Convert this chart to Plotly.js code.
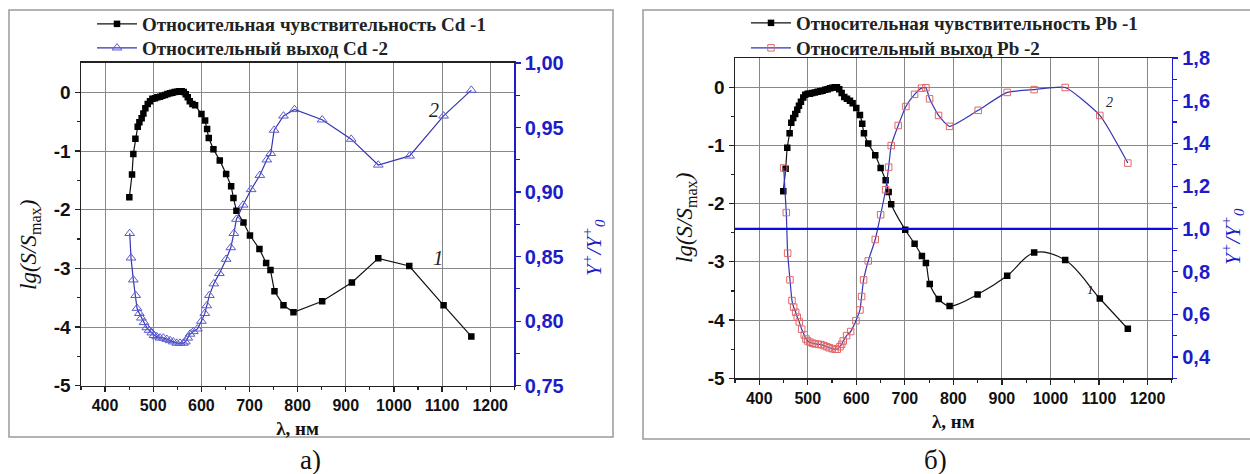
<!DOCTYPE html>
<html>
<head>
<meta charset="utf-8">
<script src="https://cdn.plot.ly/plotly-3.0.1.min.js"></script>
<style>body{margin:0;padding:0;background:#fff}#chart{width:1250px;height:474px}</style>
</head>
<body>
<div id="chart"></div>
<script>
// ---------- Data: panel а) Cd ----------
const cdSensX = [450.4,456,458.7,463,467.8,471.3,476,479.6,483.7,488.6,493.4,498.3,503.8,508.7,514.2,519,524.6,529.5,535,539.9,544.7,549.6,554.4,559.3,563.4,567.6,571.8,576,581.5,587,600.2,607.8,612,615.4,625.1,638.3,651.5,661.9,666.7,672.9,687.5,701,720.7,734.6,743.6,751.9,770.6,791.4,851,912.7,967.5,1031.9,1103.2,1160.8];
const cdSensY = [-1.79,-1.40,-1.05,-0.79,-0.585,-0.51,-0.44,-0.36,-0.27,-0.20,-0.15,-0.11,-0.10,-0.085,-0.074,-0.057,-0.045,-0.03,-0.017,-0.006,0.005,0.01,0.017,0.02,0.006,-0.034,-0.085,-0.15,-0.20,-0.22,-0.37,-0.48,-0.625,-0.78,-0.97,-1.16,-1.39,-1.60,-1.80,-2.02,-2.22,-2.44,-2.67,-2.91,-3.03,-3.39,-3.63,-3.75,-3.56,-3.24,-2.83,-2.96,-3.63,-4.16];
const cdYieldX = [451.2,453.9,458.7,463.7,466.4,471.2,475.4,481,486.6,491.4,497,501.8,507.4,514.2,521.1,528.2,535,541.9,549,555.8,562.7,566.8,571.8,576.6,583.5,591.8,600.1,607.2,611.3,616.7,625.9,637.5,651.5,661.2,667.5,672.9,686.8,703.4,721.5,736,744.3,751.2,770.6,793.5,851,911.3,967.5,1032.6,1103.2,1160.8];
const cdYieldY = [0.868,0.849,0.832,0.820,0.810,0.806,0.8025,0.799,0.795,0.793,0.791,0.789,0.788,0.787,0.787,0.786,0.785,0.784,0.783,0.783,0.783,0.784,0.787,0.790,0.792,0.794,0.800,0.806,0.812,0.820,0.829,0.837,0.848,0.857,0.868,0.879,0.890,0.902,0.913,0.925,0.930,0.948,0.959,0.964,0.956,0.941,0.921,0.928,0.959,0.979];

// ---------- Data: panel б) Pb ----------
const pbSensX = [449.5,454.4,457.7,462.6,466,470,474.2,478.3,481.8,485.9,490.7,494.8,499.7,504.5,509.2,514.8,520.3,525.7,530.6,536,540.9,545.7,550.4,555.4,560.1,564.8,569.8,575.2,580.7,586.9,592.4,599.9,607.5,612.2,615.7,624.6,639,650.1,660.4,666.6,671.9,700.8,720.1,735.2,743.4,751.3,769.8,792.2,849.9,910.9,966.5,1030.4,1101.8,1159.5];
const pbSensY = [-1.79,-1.40,-1.04,-0.79,-0.61,-0.53,-0.46,-0.39,-0.32,-0.25,-0.18,-0.13,-0.115,-0.115,-0.10,-0.09,-0.08,-0.07,-0.06,-0.045,-0.035,-0.02,-0.01,0,0,-0.035,-0.10,-0.17,-0.20,-0.235,-0.275,-0.36,-0.48,-0.63,-0.79,-0.97,-1.17,-1.39,-1.60,-1.80,-2.01,-2.45,-2.69,-2.90,-3.02,-3.38,-3.64,-3.76,-3.56,-3.24,-2.84,-2.97,-3.63,-4.15];
const pbYieldX = [450.3,455.7,458.5,463.3,467.4,470.9,475,478.3,482.4,487.4,492.7,496.2,499.7,504.5,510,515.4,521.6,527.2,533.3,538.9,544.2,550.4,556,560.7,566.3,569.8,573.1,580,588.3,599.2,607.5,610.9,615,624.6,639,650.1,660.4,666.6,671.9,686.3,702.2,720.1,734.5,743.4,751,769.5,792.2,851.1,910.9,966.5,1030.4,1101.8,1159.5];
const pbYieldY = [1.285,1.076,0.886,0.761,0.664,0.633,0.609,0.586,0.564,0.530,0.503,0.484,0.475,0.469,0.464,0.461,0.459,0.458,0.453,0.448,0.443,0.439,0.436,0.436,0.448,0.459,0.475,0.500,0.519,0.570,0.620,0.683,0.761,0.850,0.950,1.066,1.183,1.289,1.390,1.484,1.573,1.630,1.659,1.661,1.609,1.531,1.480,1.555,1.639,1.652,1.662,1.531,1.308];

// ---------- Tick labels ----------
const xTickVals = [400,500,600,700,800,900,1000,1100,1200];
const xTickText = ['400','500','600','700','800','900','1000','1100','1200'];
const lgTickVals = [-5,-4,-3,-2,-1,0];
const lgTickText = ['-5','-4','-3','-2','-1','0'];
const lgMinorVals = [-4.5,-3.5,-2.5,-1.5,-0.5];
const xMinorVals = [350,450,550,650,750,850,950,1050,1150,1250];
const cdYieldTickVals = [0.75,0.80,0.85,0.90,0.95,1.00];
const cdYieldTickText = ['0,75','0,80','0,85','0,90','0,95','1,00'];
const cdYieldMinorVals = [0.775,0.825,0.875,0.925,0.975];
const pbYieldTickVals = [0.4,0.6,0.8,1.0,1.2,1.4,1.6,1.8];
const pbYieldTickText = ['0,4','0,6','0,8','1,0','1,2','1,4','1,6','1,8'];
const pbYieldMinorVals = [0.3,0.5,0.7,0.9,1.1,1.3,1.5,1.7];

const names = {
  cd1: 'Относительная чувствительность Cd -1',
  cd2: 'Относительный выход Cd -2',
  pb1: 'Относительная чувствительность Pb -1',
  pb2: 'Относительный выход Pb -2'
};

const BLUE = '#1c1cc8';
const LINEBLUE = '#3535b5';
const GRID = '#888888';
const SERIF = 'Liberation Serif, Times New Roman, serif';
const SANS = 'Liberation Sans, Arial, sans-serif';
const bold = arr => arr.map(t => '<b>' + t + '</b>');

const traces = [
  {x: cdSensX, y: cdSensY, name: names.cd1, xaxis: 'x', yaxis: 'y', mode: 'lines+markers', legend: 'legend',
   line: {color: '#111', width: 1.2}, marker: {symbol: 'square', size: 6.5, color: '#000'}},
  {x: cdYieldX, y: cdYieldY, name: names.cd2, xaxis: 'x', yaxis: 'y2', mode: 'lines+markers', legend: 'legend2',
   line: {color: LINEBLUE, width: 1.2}, marker: {symbol: 'triangle-up-open', size: 8.5, color: '#5a5ad0', line: {width: 1}}},
  {x: pbSensX, y: pbSensY, name: names.pb1, xaxis: 'x2', yaxis: 'y3', mode: 'lines+markers', legend: 'legend3',
   line: {color: '#111', width: 1.2, shape: 'spline', smoothing: 1}, marker: {symbol: 'square', size: 6.5, color: '#000'}},
  {x: pbYieldX, y: pbYieldY, name: names.pb2, xaxis: 'x2', yaxis: 'y4', mode: 'lines+markers', legend: 'legend4',
   line: {color: LINEBLUE, width: 1.2, shape: 'spline', smoothing: 0.5}, marker: {symbol: 'square-open', size: 6.5, color: '#e06868', line: {width: 1}}}
];

const xTickFont = {family: SANS, size: 16, color: '#111'};
const tickFontBlack = {family: SANS, size: 19, color: '#111'};
const tickFontBlue = {family: SANS, size: 20, color: BLUE};

function xAxis(domain, anchor) {
  return {domain: domain, anchor: anchor, range: [350, 1250], tickmode: 'array', tickvals: xTickVals, ticktext: bold(xTickText),
    ticks: 'outside', ticklen: 5, tickwidth: 1.2, tickcolor: '#222',
    minor: {tickvals: xMinorVals, ticks: 'outside', ticklen: 3, tickcolor: '#222', showgrid: false},
    showgrid: true, gridcolor: GRID, gridwidth: 1, zeroline: false,
    showline: true, linecolor: '#222', linewidth: 1.5, mirror: true,
    tickfont: xTickFont,
    title: {text: '<b>λ, нм</b>', font: {family: SERIF, size: 19, color: '#111'}, standoff: 8}};
}
function lgAxis(domain, anchor) {
  return {domain: domain, anchor: anchor, range: [-5, 0.5], tickmode: 'array', tickvals: lgTickVals, ticktext: bold(lgTickText),
    ticks: 'outside', ticklen: 5, tickwidth: 1.2, tickcolor: '#222',
    minor: {tickvals: lgMinorVals, ticks: 'outside', ticklen: 3, tickcolor: '#222', showgrid: false},
    showgrid: true, gridcolor: GRID, gridwidth: 1, zeroline: false,
    showline: true, linecolor: '#222', linewidth: 1.5,
    tickfont: tickFontBlack};
}
function yieldAxis(over, anchor, range, vals, text, minorVals) {
  return {overlaying: over, anchor: anchor, side: 'right', range: range, tickmode: 'array', tickvals: vals, ticktext: bold(text),
    ticks: 'outside', ticklen: 5, tickwidth: 1.2, tickcolor: BLUE,
    minor: {tickvals: minorVals, ticks: 'outside', ticklen: 4, tickcolor: BLUE, showgrid: false},
    showgrid: false, zeroline: false, showline: true, linecolor: BLUE, linewidth: 1.5, tickfont: tickFontBlue};
}
function legendAt(px, py) {
  return {x: px / 1250, y: 1 - py / 474, xanchor: 'left', yanchor: 'middle', bgcolor: 'rgba(0,0,0,0)', borderwidth: 0,
    font: {family: SERIF, size: 19, color: '#222', weight: 'bold'}, tracegroupgap: 0, itemwidth: 40};
}
function ann(xp, yp, text, size, color, angle, style) {
  return {xref: 'paper', yref: 'paper', x: xp / 1250, y: 1 - yp / 474, xanchor: 'center', yanchor: 'middle',
    text: text, textangle: angle, showarrow: false, font: {family: SERIF, size: size, color: color, style: style}};
}

const lgTitle = 'lg(S/S<sub><span style="font-style:normal">max</span></sub>)';
const yTitle = 'Y<sup>+</sup>/Y<sup>+</sup><sub>0</sub>';

const layout = {
  width: 1250, height: 474, autosize: false,
  margin: {l: 0, r: 0, t: 0, b: 0},
  paper_bgcolor: '#fff', plot_bgcolor: '#fff',
  separators: ',.',
  xaxis: xAxis([0.0648, 0.4114], 'y'),
  yaxis: lgAxis([0.1863, 0.8671], 'x'),
  yaxis2: yieldAxis('y', 'x', [0.75, 1.0], cdYieldTickVals, cdYieldTickText, cdYieldMinorVals),
  xaxis2: xAxis([0.588, 0.9374], 'y3'),
  yaxis3: lgAxis([0.2019, 0.8776], 'x2'),
  yaxis4: yieldAxis('y3', 'x2', [0.3, 1.8], pbYieldTickVals, pbYieldTickText, pbYieldMinorVals),
  showlegend: true,
  legend: legendAt(92, 24),
  legend2: legendAt(92, 48),
  legend3: legendAt(746, 23),
  legend4: legendAt(746, 48),
  shapes: [
    {type: 'rect', xref: 'paper', yref: 'paper', x0: 9/1250, x1: 613/1250, y0: 1 - 437/474, y1: 1 - 10/474, line: {color: '#9a9a9a', width: 1.5}},
    {type: 'rect', xref: 'paper', yref: 'paper', x0: 643/1250, x1: 1.01, y0: 1 - 439/474, y1: 1 - 10/474, line: {color: '#9a9a9a', width: 1.5}},
    {type: 'line', xref: 'x2 domain', yref: 'y4', x0: 0, x1: 1, y0: 1.0, y1: 1.0, line: {color: '#0a0ae0', width: 2.2}}
  ],
  annotations: [
    ann(30, 245, lgTitle, 23, '#111', -90, 'italic'),
    ann(593, 248, yTitle, 21, BLUE, -90, 'italic'),
    ann(686, 218, lgTitle, 23, '#111', -90, 'italic'),
    ann(1232, 237, yTitle, 21, BLUE, -90, 'italic'),
    {xref: 'x', yref: 'y', x: 1084, y: -0.30, text: '2', showarrow: false,
      font: {family: SERIF, size: 20, color: '#222', style: 'italic'}},
    {xref: 'x', yref: 'y', x: 1092, y: -2.82, text: '1', showarrow: false,
      font: {family: SERIF, size: 21, color: '#222', style: 'italic'}},
    {xref: 'x2', yref: 'y4', x: 1122, y: 1.59, text: '2', showarrow: false,
      font: {family: SERIF, size: 14, color: '#222', style: 'italic'}},
    {xref: 'x2', yref: 'y3', x: 1083, y: -3.47, text: '1', showarrow: false,
      font: {family: SERIF, size: 13, color: '#222', style: 'italic'}},
    ann(310, 460, 'а)', 27, '#111', 0, 'normal'),
    ann(935, 460, 'б)', 27, '#111', 0, 'normal')
  ]
};

Plotly.newPlot('chart', traces, layout, {staticPlot: true, displayModeBar: false});
</script>
</body>
</html>
